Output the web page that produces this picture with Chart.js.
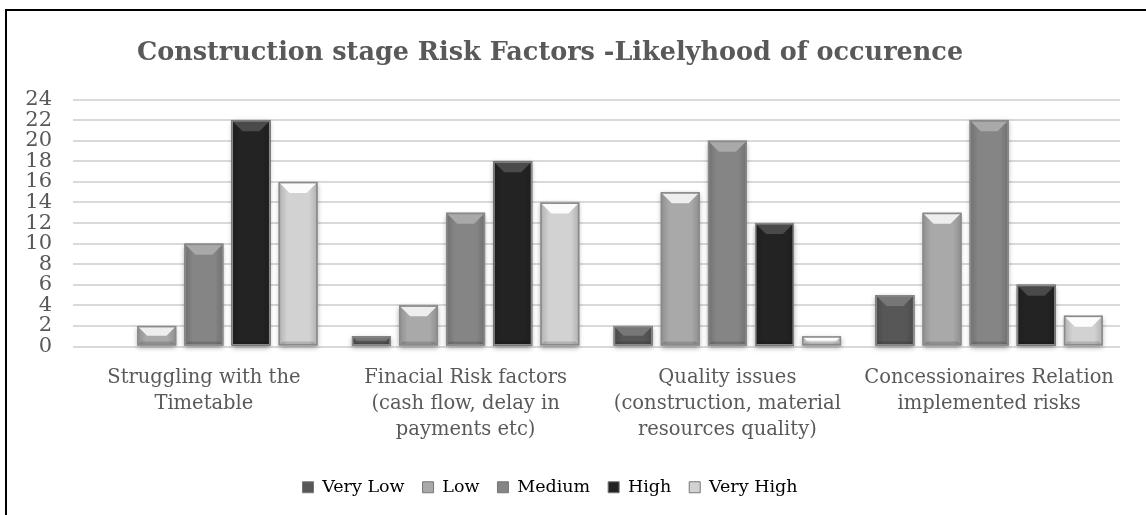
<!DOCTYPE html>
<html>
<head>
<meta charset="utf-8">
<script src="https://cdn.jsdelivr.net/npm/chart.js@4"></script>
<style>
  html, body { margin: 0; padding: 0; background: #fff; overflow: hidden; }
  body { width: 1146px; height: 515px; position: relative; }
  #frame {
    position: absolute; left: 5px; top: 9px; width: 1200px; height: 600px;
    border-top: 2px solid #000; border-left: 2px solid #000; box-sizing: border-box;
  }
  #wrap { position: absolute; left: -20px; top: 0; width: 1140px; height: 515px; }
</style>
</head>
<body>
<div id="frame"></div>
<div id="wrap"><canvas id="chart"></canvas></div>
<script>
// Risk categories (x axis), each split into multiple lines
const categories = [
  ["Struggling with the", "Timetable"],
  ["Finacial Risk factors", "(cash flow, delay in", "payments etc)"],
  ["Quality issues", "(construction, material", "resources quality)"],
  ["Concessionaires Relation", "implemented risks"]
];

// Number of responses per likelihood level
const veryLow  = [0, 1, 2, 5];
const low      = [2, 4, 15, 13];
const medium   = [10, 13, 20, 22];
const high     = [22, 18, 12, 6];
const veryHigh = [16, 14, 1, 3];

const seriesNames = ["Very Low", "Low", "Medium", "High", "Very High"];
const yTicks = [0, 2, 4, 6, 8, 10, 12, 14, 16, 18, 20, 22, 24];

// Body colour and top-bevel colour for each series
const fills  = ["#575757", "#a9a9a9", "#858585", "#232323", "#d2d2d2"];
const bevels = ["#777777", "#eeeeee", "#a9a9a9", "#4a4a4a", "#fcfcfc"];

const SERIF = "'DejaVu Serif', 'Liberation Serif', serif";

// Adds a beveled, slightly shaded look to each bar rectangle
const bevelPlugin = {
  id: "bevel",
  beforeDatasetsDraw(chart) {
    // soft drop shadow beneath every bar
    const ctx = chart.ctx;
    chart.data.datasets.forEach((ds, di) => {
      chart.getDatasetMeta(di).data.forEach((bar) => {
        const { x, y, base, width } = bar.getProps(["x", "y", "base", "width"], true);
        if (base - y <= 0.5) return;
        ctx.save();
        ctx.shadowColor = "rgba(0,0,0,0.35)";
        ctx.shadowBlur = 5;
        ctx.shadowOffsetY = 2;
        ctx.fillStyle = "#999";
        ctx.fillRect(x - width / 2, y, width, base - y);
        ctx.restore();
      });
    });
  },
  afterDatasetsDraw(chart) {
    const ctx = chart.ctx;
    chart.data.datasets.forEach((ds, di) => {
      const meta = chart.getDatasetMeta(di);
      if (meta.hidden) return;
      meta.data.forEach((bar) => {
        const { x, y, base, width } = bar.getProps(["x", "y", "base", "width"], true);
        const h = base - y;
        if (h <= 0.5) return;
        const l = x - width / 2, r = x + width / 2;
        const b = Math.min(11, h / 2);
        ctx.save();
        // side shading
        const g = ctx.createLinearGradient(l, 0, r, 0);
        g.addColorStop(0, "rgba(0,0,0,0.16)");
        g.addColorStop(0.22, "rgba(0,0,0,0)");
        g.addColorStop(0.78, "rgba(0,0,0,0)");
        g.addColorStop(1, "rgba(0,0,0,0.16)");
        ctx.fillStyle = g;
        ctx.fillRect(l, y, width, h);
        // top bevel
        ctx.beginPath();
        ctx.moveTo(l + 1, y + 1);
        ctx.lineTo(r - 1, y + 1);
        ctx.lineTo(r - b, y + b);
        ctx.lineTo(l + b, y + b);
        ctx.closePath();
        ctx.fillStyle = bevels[di];
        ctx.fill();
        // bottom bevel
        const bb = Math.min(4, h / 3);
        ctx.beginPath();
        ctx.moveTo(l + 1, base - 1);
        ctx.lineTo(r - 1, base - 1);
        ctx.lineTo(r - bb, base - bb);
        ctx.lineTo(l + bb, base - bb);
        ctx.closePath();
        ctx.fillStyle = "rgba(0,0,0,0.15)";
        ctx.fill();
        // outline
        ctx.strokeStyle = "#8a8a8a";
        ctx.lineWidth = 1.5;
        ctx.strokeRect(l + 0.75, y + 0.75, width - 1.5, h - 1.5);
        ctx.restore();
      });
    });
  }
};

const values = [veryLow, low, medium, high, veryHigh];

new Chart(document.getElementById("chart"), {
  type: "bar",
  data: {
    labels: categories,
    datasets: seriesNames.map((name, i) => ({
      label: name,
      data: values[i],
      backgroundColor: fills[i],
      borderWidth: 0,
      categoryPercentage: 0.9,
      barPercentage: 0.826
    }))
  },
  options: {
    responsive: true,
    maintainAspectRatio: false,
    animation: false,
    layout: { padding: { left: 0, right: 0, top: 0, bottom: 9 } },
    plugins: {
      tooltip: { enabled: false },
      title: {
        display: true,
        text: "Construction stage Risk Factors -Likelyhood of occurence",
        color: "#595959",
        font: { family: SERIF, size: 25.5, weight: "bold" },
        padding: { top: 38, bottom: 31 }
      },
      legend: {
        position: "bottom",
        labels: {
          color: "#595959",
          font: { family: SERIF, size: 17.5 },
          boxWidth: 11,
          boxHeight: 11,
          padding: 18,
          generateLabels(chart) {
            return chart.data.datasets.map((ds, i) => ({
              text: ds.label,
              fillStyle: fills[i],
              strokeStyle: "#777",
              lineWidth: 1,
              datasetIndex: i
            }));
          }
        }
      }
    },
    scales: {
      x: {
        grid: { display: false, drawTicks: false },
        border: { display: false },
        afterFit(axis) {
          axis.height = 114;
          axis.paddingLeft = 0;
          axis.paddingRight = 0;
        },
        ticks: {
          color: "#595959",
          font: { family: SERIF, size: 19.5, lineHeight: 1.333 },
          padding: 18,
          maxRotation: 0,
          autoSkip: false
        }
      },
      y: {
        min: 0,
        max: 24,
        afterBuildTicks(axis) { axis.ticks = yTicks.map(v => ({ value: v })); },
        afterFit(axis) { axis.width = 93; },
        grid: { color: "#d9d9d9", lineWidth: 2, drawTicks: false },
        border: { display: false },
        ticks: {
          color: "#595959",
          font: { family: SERIF, size: 21 },
          padding: 21,
          autoSkip: false
        }
      }
    }
  },
  plugins: [bevelPlugin]
});
</script>
</body>
</html>
